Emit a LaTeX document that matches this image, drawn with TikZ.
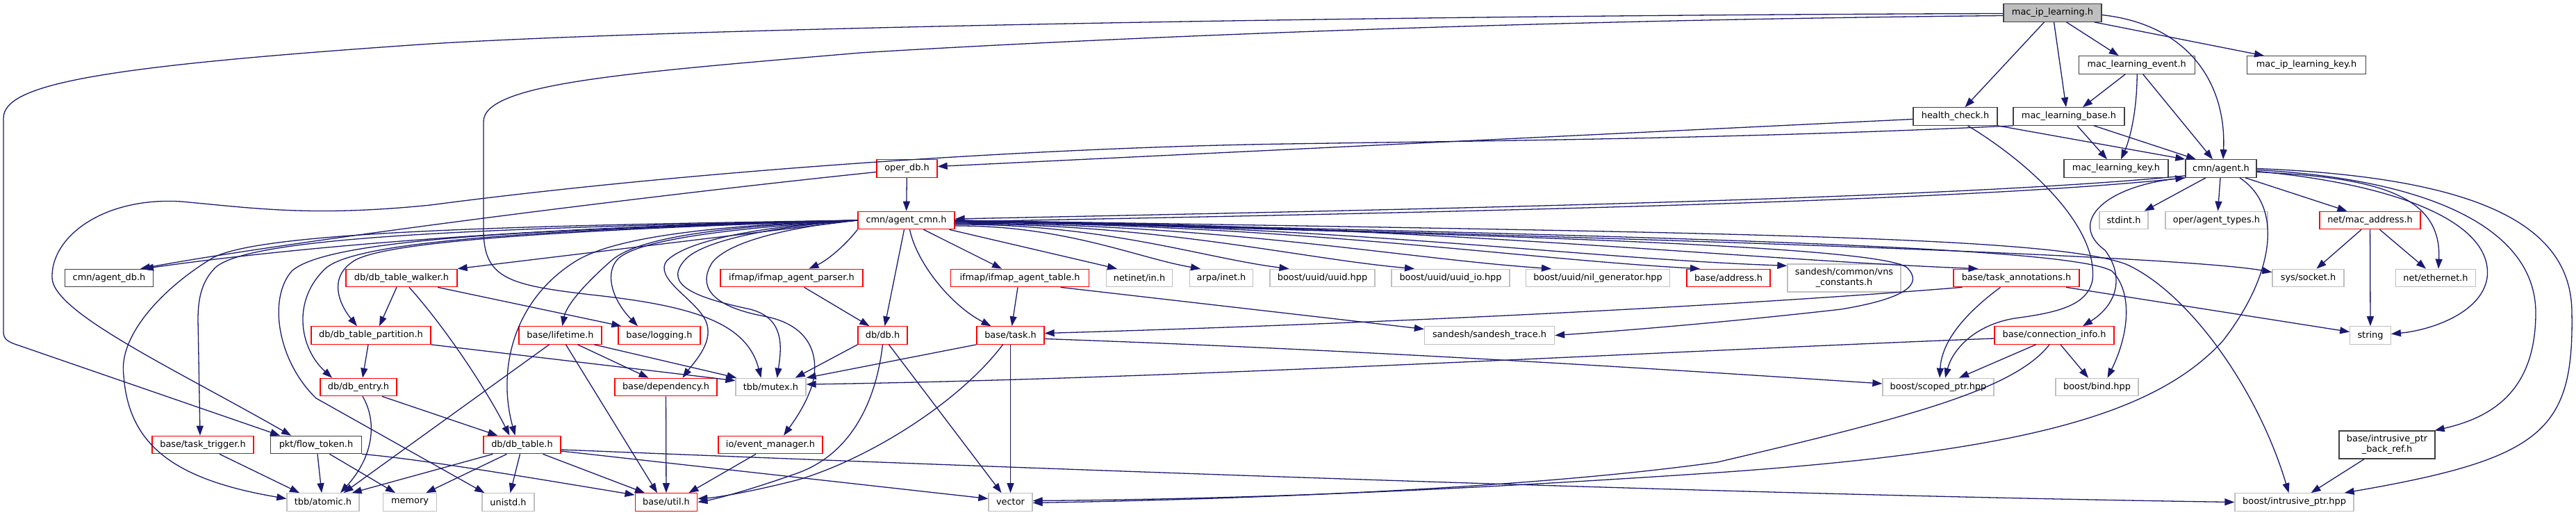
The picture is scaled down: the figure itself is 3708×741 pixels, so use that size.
\documentclass[tikz,border=0pt]{standalone}
\usepackage{fontspec}
\setmainfont{DejaVu Sans}
\usetikzlibrary{arrows.meta}
\definecolor{edgec}{HTML}{191970}
\definecolor{grayb}{HTML}{BFBFBF}
\definecolor{blackb}{HTML}{404040}
\definecolor{redb}{HTML}{FF0000}
\definecolor{topfill}{HTML}{BFBFBF}
\begin{document}
\begin{tikzpicture}[x=1pt,y=-1pt,
  box/.style={draw, rectangle, inner sep=0pt, minimum height=25.4pt, line width=1.3pt, fill=white, text=black, align=center, font=\fontsize{12.9}{15}\selectfont},
  nb/.style={box, draw=blackb},
  nr/.style={box, draw=redb},
  ng/.style={box, draw=grayb},
  ntop/.style={box, draw=blackb, fill=topfill},
  e/.style={draw=edgec, line width=1.3pt, -{Triangle[length=14pt,width=10pt]}}
]
\useasboundingbox (0,0) rectangle (3708,741);
% ---------------- nodes ----------------
\node[ntop, minimum width=141pt] (mip) at (2954.5,18.5) {mac\_ip\_learning.h};
\node[nb, minimum width=167pt] (mle) at (3075.7,93.5) {mac\_learning\_event.h};
\node[nb, minimum width=171pt] (mipk) at (3320,93.5) {mac\_ip\_learning\_key.h};
\node[nb, minimum width=121pt] (hc) at (2814.5,167.5) {health\_check.h};
\node[nb, minimum width=160pt] (mlb) at (2978,167.5) {mac\_learning\_base.h};
\node[nr, minimum width=87pt] (oper) at (1305.5,242.5) {oper\_db.h};
\node[nb, minimum width=150pt] (mlk) at (3046,242.5) {mac\_learning\_key.h};
\node[nb, minimum width=102pt] (agent) at (3197,242.5) {cmn/agent.h};
\node[nr, minimum width=139pt] (acmn) at (1304.5,317) {cmn/agent\_cmn.h};
\node[ng, minimum width=70pt] (stdint) at (3057,317) {stdint.h};
\node[ng, minimum width=147pt] (atypes) at (3190.5,317) {oper/agent\_types.h};
\node[nr, minimum width=145pt] (macaddr) at (3411.5,317) {net/mac\_address.h};
% row 5
\node[nb, minimum width=126.5pt] (adb) at (157,400) {cmn/agent\_db.h};
\node[nr, minimum width=160pt] (walker) at (578,400) {db/db\_table\_walker.h};
\node[nr, minimum width=205pt] (parser) at (1139.5,400) {ifmap/ifmap\_agent\_parser.h};
\node[nr, minimum width=198.5pt] (atable) at (1468,400) {ifmap/ifmap\_agent\_table.h};
\node[ng, minimum width=95.5pt] (netin) at (1640,400) {netinet/in.h};
\node[ng, minimum width=91.5pt] (arpa) at (1758,400) {arpa/inet.h};
\node[ng, minimum width=151pt] (uuid) at (1903.5,400) {boost/uuid/uuid.hpp};
\node[ng, minimum width=170pt] (uuidio) at (2088,400) {boost/uuid/uuid\_io.hpp};
\node[ng, minimum width=207pt] (nilgen) at (2300,400) {boost/uuid/nil\_generator.hpp};
\node[nr, minimum width=120pt] (address) at (2488,400) {base/address.h};
\node[ng, minimum width=163pt, minimum height=40pt] (vns) at (2654.5,400) {sandesh/common/vns\\\_constants.h};
\node[nr, minimum width=181pt] (tann) at (2902.5,400) {base/task\_annotations.h};
\node[ng, minimum width=103pt] (socket) at (3322.5,400) {sys/socket.h};
\node[ng, minimum width=115pt] (ether) at (3506,400) {net/ethernet.h};
% row 6
\node[nr, minimum width=172pt] (part) at (534,482.5) {db/db\_table\_partition.h};
\node[nr, minimum width=119pt] (life) at (806.5,482.5) {base/lifetime.h};
\node[nr, minimum width=118pt] (logging) at (949,482.5) {base/logging.h};
\node[nr, minimum width=71pt] (dbh) at (1270.5,482.5) {db/db.h};
\node[nr, minimum width=97pt] (task) at (1454.5,482.5) {base/task.h};
\node[ng, minimum width=187pt] (strace) at (2144,482.5) {sandesh/sandesh\_trace.h};
\node[nr, minimum width=172pt] (conn) at (2957,482.5) {base/connection\_info.h};
\node[ng, minimum width=58.5pt] (string) at (3412,482.5) {string};
% row 7
\node[nr, minimum width=110pt] (entry) at (516,557) {db/db\_entry.h};
\node[nr, minimum width=147pt] (dep) at (958.5,557) {base/dependency.h};
\node[ng, minimum width=101pt] (mutex) at (1109.5,557) {tbb/mutex.h};
\node[ng, minimum width=160pt] (scoped) at (2790,557) {boost/scoped\_ptr.hpp};
\node[ng, minimum width=119pt] (bind) at (3018.5,557) {boost/bind.hpp};
% row 8
\node[nr, minimum width=146pt] (trig) at (292,640) {base/task\_trigger.h};
\node[nb, minimum width=130.5pt] (flow) at (455,640) {pkt/flow\_token.h};
\node[nr, minimum width=111pt] (dbtable) at (751.5,640) {db/db\_table.h};
\node[nr, minimum width=150pt] (evm) at (1109,640) {io/event\_manager.h};
\node[nb, minimum width=138pt, minimum height=40pt] (backref) at (3436,640) {base/intrusive\_ptr\\\_back\_ref.h};
% row 9
\node[ng, minimum width=104pt] (atomic) at (465,722.5) {tbb/atomic.h};
\node[ng, minimum width=77pt] (memory) at (590,722.5) {memory};
\node[ng, minimum width=75pt] (unistd) at (731.5,722.5) {unistd.h};
\node[nr, minimum width=89.5pt] (util) at (959,722.5) {base/util.h};
\node[ng, minimum width=63pt] (vector) at (1454.5,722.5) {vector};
\node[ng, minimum width=171pt] (iptr) at (3302.5,722.5) {boost/intrusive\_ptr.hpp};
% ---------------- edges ----------------
% mac_ip_learning.h
\draw[e] ([xshift=-12]mip.south) -- ([xshift=14]hc.north);
\draw[e] ([xshift=2]mip.south) -- ([xshift=-4]mlb.north);
\draw[e] ([xshift=20]mip.south) -- ([xshift=-26]mle.north);
\draw[e] ([xshift=-11]mip.south east) -- ([xshift=-61]mipk.north);
\draw[e] ([yshift=-3pt]mip.east) .. controls (3150,35) and (3205,120) .. ([xshift=3]agent.north);
\draw[e] ([yshift=-1pt]mip.west) .. controls (2000,22) and (1000,40) .. (620,63) .. controls (150,95) and (5,120) .. (5,170) -- (5,478) .. controls (5,488) and (12,492) .. (24,496) -- ([xshift=14]flow.north west);
\draw[e] ([yshift=-4pt]mip.west) .. controls (2100,30) and (1500,60) .. (1238,76) .. controls (900,105) and (696,120) .. (696,175) -- (696,330) .. controls (696,400) and (730,410) .. (850,424) .. controls (1000,440) and (1075,465) .. ([xshift=-14]mutex.north);
% mac_learning_event.h
\draw[e] ([xshift=-16.5]mle.south) -- ([xshift=20]mlb.north);
\draw[e] ([xshift=0.5]mle.south) .. controls (3076,160) and (3066,200) .. ([xshift=7]mlk.north);
\draw[e] ([xshift=9]mle.south) -- ([xshift=-12]agent.north);
% health_check.h
\draw[e] ([yshift=-4pt]hc.west) -- ([yshift=3pt]oper.east);
\draw[e] (hc.south east) -- (agent.north west);
\draw[e] ([xshift=18]hc.south) .. controls (2930,240) and (3020,330) .. (3012,403) .. controls (3005,440) and (2960,450) .. (2900,458) .. controls (2840,468) and (2810,505) .. ([xshift=10]scoped.north);
% mac_learning_base.h
\draw[e] ([xshift=12]mlb.south) -- ([xshift=-13]mlk.north);
\draw[e] ([xshift=36]mlb.south) -- ([xshift=-36]agent.north);
\draw[e] (mlb.south west) .. controls (2500,200) and (2100,203) .. (1854,207) .. controls (1500,212) and (1000,245) .. (620,295) .. controls (450,312) and (370,300) .. (261,290) .. controls (150,283) and (73,340) .. (75,400) .. controls (77,450) and (250,530) .. ([xshift=30]flow.north west);
% oper_db.h
\draw[e] (oper) -- (acmn);
\draw[e] ([yshift=-5pt]oper.west) .. controls (900,285) and (400,350) .. ([xshift=45]adb.north);
% agent_cmn <-> agent
\draw[e] ([yshift=-2pt]acmn.east) .. controls (2000,307) and (2800,292) .. (agent.south west);
\draw[e] ([yshift=3pt]agent.south west) .. controls (2800,287) and (2000,302) .. ([yshift=2pt]acmn.east);
% agent_cmn.h to the left
\draw[e] (acmn.west) .. controls (800,325) and (450,352) .. ([xshift=50]adb.north);
\draw[e] (acmn.west) .. controls (700,325) and (380,335) .. (308,370) .. controls (240,410) and (170,480) .. (178,540) .. controls (185,640) and (250,690) .. ([yshift=5pt]atomic.west);
\draw[e] (acmn.west) .. controls (700,328) and (360,340) .. (310,385) .. controls (290,405) and (285,430) .. (285,460) -- ([xshift=-4]trig.north);
\draw[e] (acmn.west) .. controls (750,330) and (470,345) .. (420,390) .. controls (385,430) and (400,520) .. (455,573) -- ([xshift=4]unistd.north west);
\draw[e] (acmn.west) .. controls (800,330) and (520,345) .. (470,385) .. controls (420,430) and (430,500) .. ([xshift=-38]entry.north);
\draw[e] (acmn.west) .. controls (850,330) and (560,345) .. (510,375) .. controls (470,400) and (490,440) .. ([xshift=-20]part.north);
\draw[e] (acmn.west) -- (walker.north east);
\draw[e] (acmn.west) .. controls (1000,325) and (880,345) .. (830,375) .. controls (740,430) and (715,530) .. ([xshift=-10]dbtable.north);
\draw[e] (acmn.west) .. controls (1050,325) and (920,340) .. (880,375) .. controls (840,410) and (815,440) .. ([xshift=3]life.north);
\draw[e] (acmn.west) .. controls (1050,328) and (920,345) .. (890,372) .. controls (870,392) and (880,430) .. ([xshift=-31]logging.north);
\draw[e] (acmn.west) .. controls (1100,325) and (990,345) .. (960,375) .. controls (940,400) and (1000,430) .. (1015,460) .. controls (1030,490) and (1000,520) .. ([xshift=24]dep.north);
\draw[e] (acmn.west) .. controls (1120,325) and (1010,345) .. (985,375) .. controls (955,410) and (1000,428) .. (1080,445) .. controls (1130,458) and (1125,500) .. ([xshift=9]mutex.north);
\draw[e] (acmn.west) .. controls (1150,325) and (1050,345) .. (1025,378) .. controls (1005,410) and (1020,440) .. (1100,455) .. controls (1180,470) and (1180,530) .. (1165,565) .. controls (1155,590) and (1140,610) .. ([xshift=19]evm.north);
\draw[e] (acmn.south west) .. controls (1215,355) and (1190,375) .. ([xshift=25]parser.north);
% agent_cmn.h down and right
\draw[e] ([xshift=-3]acmn.south) -- ([xshift=3]dbh.north);
\draw[e] ([xshift=5]acmn.south) .. controls (1320,380) and (1370,440) .. ([xshift=-28]task.north);
\draw[e] ([xshift=25]acmn.south) -- ([xshift=-26]atable.north);
\draw[e] ([xshift=62]acmn.south) -- ([xshift=-32]netin.north);
\draw[e] ([yshift=-8pt]acmn.east) .. controls (1533,324) and (1640,372) .. ([xshift=-30]arpa.north);
\draw[e] ([yshift=-6pt]acmn.east) .. controls (1591,322) and (1735,372) .. ([xshift=-48]uuid.north);
\draw[e] ([yshift=-5pt]acmn.east) .. controls (1672,322) and (1870,372) .. ([xshift=-52]uuidio.north);
\draw[e] ([yshift=-4pt]acmn.east) .. controls (1760,322) and (2018,372) .. ([xshift=-67]nilgen.north);
\draw[e] ([yshift=-3pt]acmn.east) .. controls (1857,322) and (2179,372) .. ([xshift=-41]address.north);
\draw[e] ([yshift=-2pt]acmn.east) .. controls (1914,322) and (2273,372) .. ([yshift=-3pt]vns.north west);
\draw[e] ([yshift=-1pt]acmn.east) .. controls (2037,322) and (2479,372) .. ([xshift=-55]tann.north);
\draw[e] (acmn.east) .. controls (2500,345) and (3150,370) .. ([yshift=-5pt]socket.north west);
\draw[e] (acmn.east) .. controls (2000,335) and (2700,350) .. (2745,385) .. controls (2770,410) and (2740,430) .. (2650,445) .. controls (2500,462) and (2350,475) .. (strace.east);
\draw[e] (acmn.east) .. controls (2400,340) and (2980,355) .. (3040,390) .. controls (3070,420) and (3065,480) .. ([xshift=15]bind.north);
\draw[e] (acmn.east) .. controls (2500,335) and (2950,340) .. (3060,380) .. controls (3150,420) and (3250,560) .. ([xshift=-8]iptr.north);
% cmn/agent.h
\draw[e] ([xshift=-22]agent.south) -- ([xshift=-6]stdint.north east);
\draw[e] ([xshift=-1]agent.south) -- ([xshift=2]atypes.north);
\draw[e] ([xshift=35]agent.south) -- ([xshift=-33]macaddr.north);
\draw[e] ([yshift=-5pt]agent.east) .. controls (3420,255) and (3515,280) .. ([xshift=4]ether.north);
\draw[e] ([yshift=-4pt]agent.east) .. controls (3450,265) and (3590,320) .. (3580,400) .. controls (3572,450) and (3500,475) .. ([yshift=2pt]string.east);
\draw[e] ([yshift=-2pt]agent.east) .. controls (3500,258) and (3650,330) .. (3650,450) .. controls (3650,560) and (3590,600) .. ([xshift=-1]backref.north east);
\draw[e] (agent.east) .. controls (3560,255) and (3702,320) .. (3702,450) .. controls (3705,620) and (3660,660) .. ([xshift=-14]iptr.north east);
\draw[e] ([xshift=27]agent.south) .. controls (3290,300) and (3270,400) .. (3200,490) .. controls (3100,600) and (2900,650) .. (2472,680) .. controls (2100,705) and (1800,718) .. ([yshift=2pt]vector.east);
\draw[e] (agent.south west) .. controls (3030,265) and (2975,320) .. (3030,360) .. controls (3060,400) and (3045,440) .. ([xshift=41]conn.north);
% net/mac_address.h
\draw[e] ([xshift=-12.5]macaddr.south) -- ([xshift=12]socket.north);
\draw[e] (macaddr) -- (string);
\draw[e] ([xshift=14]macaddr.south) -- ([xshift=-14]ether.north);
% back ref
\draw[e] ([xshift=-33]backref.south) -- ([xshift=24]iptr.north);
% db_table_walker
\draw[e] ([xshift=-7]walker.south) -- ([xshift=12]part.north);
\draw[e] ([xshift=52]walker.south) -- ([xshift=5]logging.north west);
\draw[e] ([xshift=11]walker.south) .. controls (640,470) and (700,560) .. ([xshift=-18]dbtable.north);
% partition
\draw[e] ([xshift=-4]part.south) -- ([xshift=6]entry.north);
\draw[e] (part.south east) -- ([yshift=-4pt]mutex.north west);
% entry
\draw[e] ([xshift=6]entry.south) .. controls (545,610) and (535,660) .. ([xshift=25]atomic.north);
\draw[e] ([xshift=34]entry.south) -- ([xshift=21]dbtable.north west);
% task trigger
\draw[e] ([xshift=24]trig.south) -- ([xshift=-34]atomic.north);
% flow token
\draw[e] ([xshift=2]flow.south) -- ([xshift=-2]atomic.north);
\draw[e] ([xshift=19.5]flow.south) -- ([xshift=-21]memory.north);
\draw[e] (flow.south east) .. controls (600,660) and (750,685) .. ([yshift=-3pt]util.north west);
% db_table
\draw[e] ([xshift=-42]dbtable.south) -- ([xshift=-11]atomic.north east);
\draw[e] ([xshift=-22]dbtable.south) -- ([xshift=-16]memory.north east);
\draw[e] ([xshift=-3]dbtable.south) -- ([xshift=3]unistd.north);
\draw[e] ([xshift=30]dbtable.south) -- ([xshift=-31]util.north);
\draw[e] ([yshift=-7pt]dbtable.east) .. controls (1500,675) and (2500,712) .. (iptr.west);
\draw[e] ([yshift=-9pt]dbtable.east) -- ([yshift=5pt]vector.west);
% lifetime
\draw[e] ([xshift=-16]life.south) -- ([xshift=-23]atomic.north east);
\draw[e] ([xshift=25]life.south) -- ([xshift=-25]dep.north);
\draw[e] ([xshift=49]life.south) -- ([xshift=2]mutex.north west);
\draw[e] ([xshift=8]life.south) -- ([xshift=-13]util.north);
% dependency, event manager
\draw[e] (dep) -- (util);
\draw[e] ([xshift=-21]evm.south) -- ([xshift=-13]util.north east);
% db.h
\draw[e] (dbh.south west) -- ([xshift=-16]mutex.north east);
\draw[e] (dbh.south) .. controls (1262,570) and (1230,650) .. (1150,680) .. controls (1080,705) and (1030,718) .. (util.east);
\draw[e] ([xshift=9]dbh.south) -- ([xshift=-13]vector.north);
% task.h
\draw[e] (task) -- (vector);
\draw[e] ([xshift=-11]task.south) .. controls (1380,580) and (1250,660) .. (1150,690) .. controls (1080,708) and (1030,716) .. ([yshift=5pt]util.east);
\draw[e] (task.south west) -- (mutex.north east);
\draw[e] ([yshift=-5pt]task.east) .. controls (2000,505) and (2450,535) .. ([yshift=5pt]scoped.west);
% ifmap
\draw[e] ([xshift=18]parser.south) -- ([xshift=17]dbh.north west);
\draw[e] ([xshift=-3]atable.south) -- ([xshift=2]task.north);
\draw[e] ([xshift=58.5]atable.south) -- ([yshift=9pt]strace.west);
% task annotations
\draw[e] ([xshift=-78]tann.south) .. controls (2500,440) and (2000,465) .. ([yshift=3pt]task.east);
\draw[e] ([xshift=-23]tann.south) .. controls (2830,450) and (2795,490) .. ([xshift=2]scoped.north);
\draw[e] ([xshift=71.5]tann.south) -- ([yshift=5pt]string.west);
% connection info
\draw[e] ([yshift=-4.5pt]conn.west) .. controls (2400,505) and (1700,545) .. ([yshift=4pt]mutex.east);
\draw[e] ([xshift=-26.5]conn.south) -- ([xshift=30]scoped.north);
\draw[e] ([xshift=9]conn.south) -- ([xshift=-12.5]bind.north);
\draw[e] ([xshift=-7]conn.south) .. controls (2900,560) and (2750,600) .. (2472,665) .. controls (2200,703) and (1800,718) .. ([yshift=-1pt]vector.east);
\end{tikzpicture}
\end{document}
